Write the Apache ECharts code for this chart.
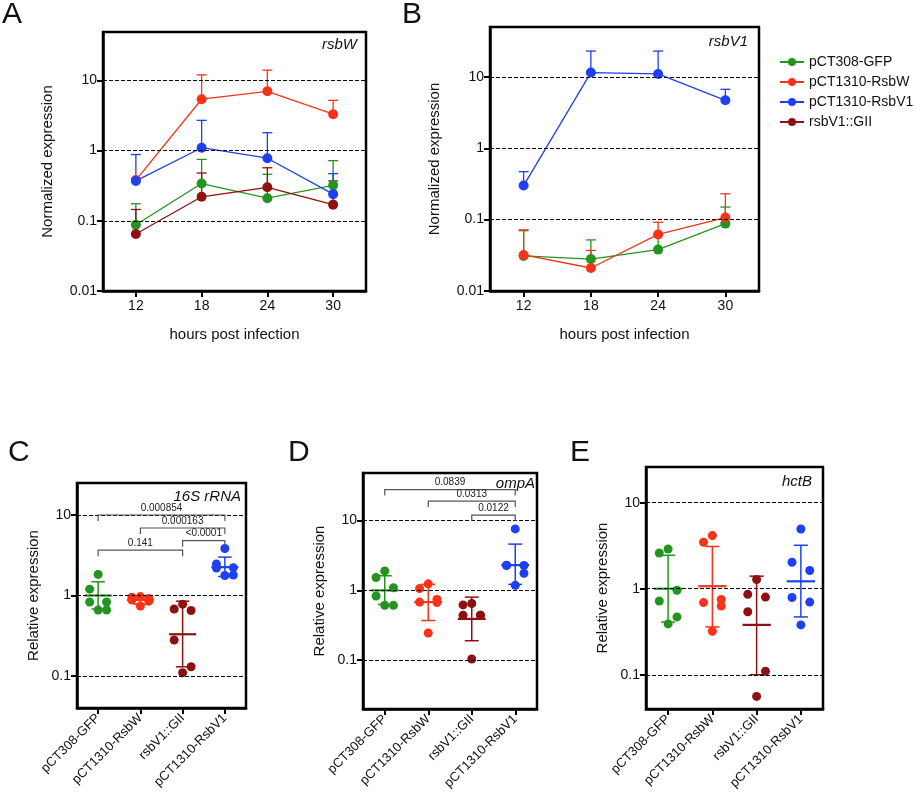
<!DOCTYPE html>
<html><head><meta charset="utf-8">
<script src="https://cdn.jsdelivr.net/npm/echarts@6/dist/echarts.min.js"></script>
<style>html,body{margin:0;padding:0;background:#fff}#c{width:914px;height:800px}</style>
</head><body><div id="c"></div>
<script>
// ---------- data ----------
const HOURS = ['12','18','24','30'];
const GROUPS = ['pCT308-GFP','pCT1310-RsbW','pCT1310-RsbV1','rsbV1::GII'];
const COLORS = {'pCT308-GFP':'#23951f','pCT1310-RsbW':'#fa3219','pCT1310-RsbV1':'#1f3ff2','rsbV1::GII':'#8e1010'};

// Panel A (rsbW) mean and upper error
const A_GFP = [0.088,0.34,0.21,0.32],  A_GFP_ERR = [0.175,0.75,0.46,0.72];
const A_RSBW = [0.38,5.4,7.0,3.3],      A_RSBW_ERR = [0.40,12,14,5.2];
const A_RSBV1 = [0.37,1.1,0.78,0.24],   A_RSBV1_ERR = [0.88,2.7,1.8,0.47];
const A_GII = [0.065,0.22,0.30,0.17],   A_GII_ERR = [0.145,0.48,0.57,0.37];
// Panel B (rsbV1)
const B_GFP = [0.031,0.028,0.038,0.088],  B_GFP_ERR = [0.07,0.052,0.06,0.15];
const B_RSBW = [0.032,0.021,0.062,0.107], B_RSBW_ERR = [0.072,0.037,0.092,0.23];
const B_RSBV1 = [0.30,11.5,11.0,4.7],     B_RSBV1_ERR = [0.47,23,23,6.7];

// Panels C-E
const STRAINS = ['pCT308-GFP','pCT1310-RsbW','rsbV1::GII','pCT1310-RsbV1'];
const C_POINTS = [[1.83,1.2,0.83,0.83,0.66,0.66],[0.97,0.95,0.92,0.88,0.85,0.74],[0.78,0.68,0.65,0.28,0.13,0.11],[3.84,2.46,2.22,2.2,1.8,1.77]];
const C_MEAN = [1.0,0.88,0.33,2.25];
const C_SD = [[0.68,1.48],[0.78,0.97],[0.13,0.85],[1.72,3.0]];
const C_PVALS = [[0,3,10,'0.000854'],[1,3,6.9,'0.000163'],[0,2,3.66,'0.141'],[2,3,4.8,'<0.0001']];

const D_POINTS = [[1.9,1.53,1.09,0.83,0.61,0.61],[1.24,1.06,0.74,0.68,0.67,0.245],[0.65,0.62,0.44,0.44,0.44,0.104],[7.6,2.3,2.27,2.27,1.76,1.18]];
const D_MEAN = [1.0,0.68,0.39,2.3];
const D_SD = [[0.63,1.62],[0.37,1.22],[0.19,0.8],[1.22,4.6]];
const D_PVALS = [[0,3,27.8,'0.0839'],[1,3,19,'0.0313'],[2,3,12,'0.0122']];

const E_POINTS = [[2.9,2.6,0.96,0.72,0.47,0.39],[4.15,3.47,0.75,0.69,0.63,0.32],[1.28,0.86,0.8,0.54,0.11,0.056],[4.95,2.03,1.63,0.79,0.7,0.38]];
const E_MEAN = [1.0,1.07,0.38,1.22];
const E_SD = [[0.41,2.45],[0.36,3.1],[0.1,1.4],[0.47,3.2]];
const E_PVALS = [];

const JITTER = [0.0,-0.2,0.2,-0.2,0.2,0.0];
const GUIDES = [10,1,0.1];
const TICKS_AB = [0.01,0.1,1,10];
const TICKS_CDE = [0.1,1,10];

// ---------- helpers ----------
const FONT = 'Liberation Sans, Arial, sans-serif';
function pow10Label(v){
  const l = Math.log10(v);
  if (Math.abs(l - Math.round(l)) > 1e-6) return '';
  const r = Math.round(l);
  return r >= 0 ? String(Math.pow(10,r)) : Math.pow(10,r).toFixed(-r);
}
function logY(grid, min, max, name, gap, ticks){
  return {type:'log', gridIndex:grid, min:min, max:max, logBase:10,
    name:name, nameLocation:'middle', nameGap:gap, nameTextStyle:{fontSize:15, color:'#111', fontFamily:FONT},
    axisLine:{show:true, lineStyle:{color:'#000', width:2.5}},
    axisTick:{show:true, length:6, customValues:ticks, lineStyle:{color:'#000', width:2}},
    minorTick:{show:false},
    axisLabel:{formatter:pow10Label, customValues:ticks, fontSize:14, color:'#111', fontFamily:FONT, margin:6},
    splitLine:{show:false}};
}
function catX(grid, data, rotate, name){
  const o = {type:'category', gridIndex:grid, data:data, boundaryGap:true,
    axisLine:{show:true, lineStyle:{color:'#000', width:2.5}},
    axisTick:{show:true, alignWithLabel:true, length:6, lineStyle:{color:'#000', width:2}},
    axisLabel:{fontSize:rotate?13:14, color:'#111', fontFamily:FONT, rotate:rotate||0, margin:8, interval:0},
    splitLine:{show:false}};
  if (name){ o.name=name; o.nameLocation='middle'; o.nameGap=36; o.nameTextStyle={fontSize:15,color:'#111',fontFamily:FONT}; }
  return o;
}
function valX(grid){ return {type:'value', gridIndex:grid, min:0, max:4, show:false}; }
function guides(xi, yi){
  return {type:'line', xAxisIndex:xi, yAxisIndex:yi, data:[], silent:true,
    markLine:{silent:true, symbol:'none', label:{show:false},
      lineStyle:{color:'#000', type:[4,2], width:1},
      data:GUIDES.map(v=>({yAxis:v}))}};
}
function errBars(xi, yi, vals, errs, color){
  return {type:'custom', xAxisIndex:xi, yAxisIndex:yi, silent:true, z:1,
    data: vals.map((v,i)=>[i,v,errs[i]]),
    renderItem:(p,api)=>{
      const a = api.coord([api.value(0), api.value(1)]);
      const b = api.coord([api.value(0), api.value(2)]);
      const st = {stroke:color, lineWidth:1.3};
      return {type:'group', children:[
        {type:'line', shape:{x1:a[0],y1:a[1],x2:b[0],y2:b[1]}, style:st},
        {type:'line', shape:{x1:b[0]-5,y1:b[1],x2:b[0]+5,y2:b[1]}, style:st}]};
    }};
}
function lineSeries(xi, yi, name, vals){
  return {type:'line', name:name, xAxisIndex:xi, yAxisIndex:yi, data:vals,
    symbol:'circle', symbolSize:10, z:3,
    itemStyle:{color:COLORS[name]}, lineStyle:{color:COLORS[name], width:1.3}};
}
function dotPanel(ci, vi, yi, points, means, sds, pvals){
  const s = [guides(ci, yi)];
  points.forEach((pts,g)=>{
    const col = COLORS[STRAINS[g]];
    s.push({type:'scatter', xAxisIndex:vi, yAxisIndex:yi, symbolSize:9, z:3,
      itemStyle:{color:col, opacity:1},
      data: pts.map((v,k)=>[g+0.5+JITTER[k], v])});
    s.push({type:'custom', xAxisIndex:ci, yAxisIndex:yi, z:4, silent:true,
      data:[[g, means[g], sds[g][0], sds[g][1]]],
      renderItem:(p,api)=>{
        const bw = api.size([1,0])[0];
        const m = api.coord([api.value(0), api.value(1)]);
        const lo = api.coord([api.value(0), api.value(2)]);
        const hi = api.coord([api.value(0), api.value(3)]);
        const st = {stroke:col, lineWidth:1.5};
        const mh = bw*0.32, ch = bw*0.16;
        return {type:'group', children:[
          {type:'line', shape:{x1:m[0]-mh,y1:m[1],x2:m[0]+mh,y2:m[1]}, style:{stroke:col, lineWidth:2.2}},
          {type:'line', shape:{x1:lo[0],y1:lo[1],x2:hi[0],y2:hi[1]}, style:st},
          {type:'line', shape:{x1:lo[0]-ch,y1:lo[1],x2:lo[0]+ch,y2:lo[1]}, style:st},
          {type:'line', shape:{x1:hi[0]-ch,y1:hi[1],x2:hi[0]+ch,y2:hi[1]}, style:st}]};
      }});
  });
  if (pvals.length) s.push({type:'custom', xAxisIndex:ci, yAxisIndex:yi, z:5, silent:true,
    data: pvals,
    renderItem:(p,api)=>{
      const a = api.coord([api.value(0), api.value(2)]);
      const b = api.coord([api.value(1), api.value(2)]);
      const lab = pvals[p.dataIndex][3];
      return {type:'group', children:[
        {type:'polyline', shape:{points:[[a[0],a[1]+6],[a[0],a[1]],[b[0],b[1]],[b[0],b[1]+6]]}, style:{stroke:'#555', lineWidth:1.2, fill:null}},
        {type:'text', x:(a[0]+b[0])/2, y:a[1]-2, style:{text:lab, fontSize:10, fill:'#222', align:'center', verticalAlign:'bottom', fontFamily:FONT}}]};
    }});
  return s;
}

// ---------- option ----------
const grids = [
  {left:103, top:32, width:263, height:259},
  {left:490, top:27, width:269, height:264},
  {left:77, top:483, width:169, height:225},
  {left:363, top:473, width:174, height:236},
  {left:646, top:467, width:177, height:242}
].map(g=>Object.assign(g,{show:true, borderColor:'#000', borderWidth:2.5, containLabel:false}));

const xAxis = [
  catX(0, HOURS, 0, 'hours post infection'),
  catX(1, HOURS, 0, 'hours post infection'),
  catX(2, STRAINS, 45), valX(2),
  catX(3, STRAINS, 45), valX(3),
  catX(4, STRAINS, 45), valX(4)
];
const yAxis = [
  logY(0, 0.01, 49, 'Normalized expression', 48, TICKS_AB),
  logY(1, 0.01, 50, 'Normalized expression', 48, TICKS_AB),
  logY(2, 0.04, 25, 'Relative expression', 36, TICKS_CDE),
  logY(3, 0.02, 48, 'Relative expression', 36, TICKS_CDE),
  logY(4, 0.04, 26, 'Relative expression', 36, TICKS_CDE)
];

const series = [guides(0,0), guides(1,1)];
[[A_GFP,A_GFP_ERR,0],[A_RSBW,A_RSBW_ERR,1],[A_RSBV1,A_RSBV1_ERR,2],[A_GII,A_GII_ERR,3]].forEach(([v,e,g])=>{
  series.push(errBars(0,0,v,e,COLORS[GROUPS[g]]));
  series.push(lineSeries(0,0,GROUPS[g],v));
});
[[B_GFP,B_GFP_ERR,0],[B_RSBW,B_RSBW_ERR,1],[B_RSBV1,B_RSBV1_ERR,2]].forEach(([v,e,g])=>{
  series.push(errBars(1,1,v,e,COLORS[GROUPS[g]]));
  series.push(lineSeries(1,1,GROUPS[g],v));
});
series.push(...dotPanel(2,3,2,C_POINTS,C_MEAN,C_SD,C_PVALS));
series.push(...dotPanel(4,5,3,D_POINTS,D_MEAN,D_SD,D_PVALS));
series.push(...dotPanel(6,7,4,E_POINTS,E_MEAN,E_SD,E_PVALS));

function t(text, left, top, size, italic, right){
  const o = {text:text, top:top, textStyle:{fontSize:size, fontWeight:'normal', fontStyle:italic?'italic':'normal', color:'#111', fontFamily:FONT}, padding:0};
  if (right!==undefined) o.right = right; else o.left = left;
  return o;
}
const title = [
  t('A', 2, 0, 30), t('B', 402, 0, 30),
  t('C', 8, 438, 30), t('D', 288, 438, 30), t('E', 570, 438, 30),
  t('rsbW', 0, 37, 15, true, 914-357),
  t('rsbV1', 0, 34, 15, true, 914-748),
  t('16S rRNA', 0, 489, 15, true, 914-241),
  t('ompA', 0, 476, 15, true, 914-535),
  t('hctB', 0, 474, 15, true, 914-812)
];

const chart = echarts.init(document.getElementById('c'), null, {renderer:'canvas'});
chart.setOption({
  animation:false, backgroundColor:'#fff',
  title: title,
  legend:{data:GROUPS, orient:'vertical', left:774, top:50, itemGap:6, itemWidth:24, itemHeight:10,
    textStyle:{fontSize:14, color:'#111', fontFamily:FONT}},
  grid: grids, xAxis: xAxis, yAxis: yAxis, series: series
});
</script></body></html>
